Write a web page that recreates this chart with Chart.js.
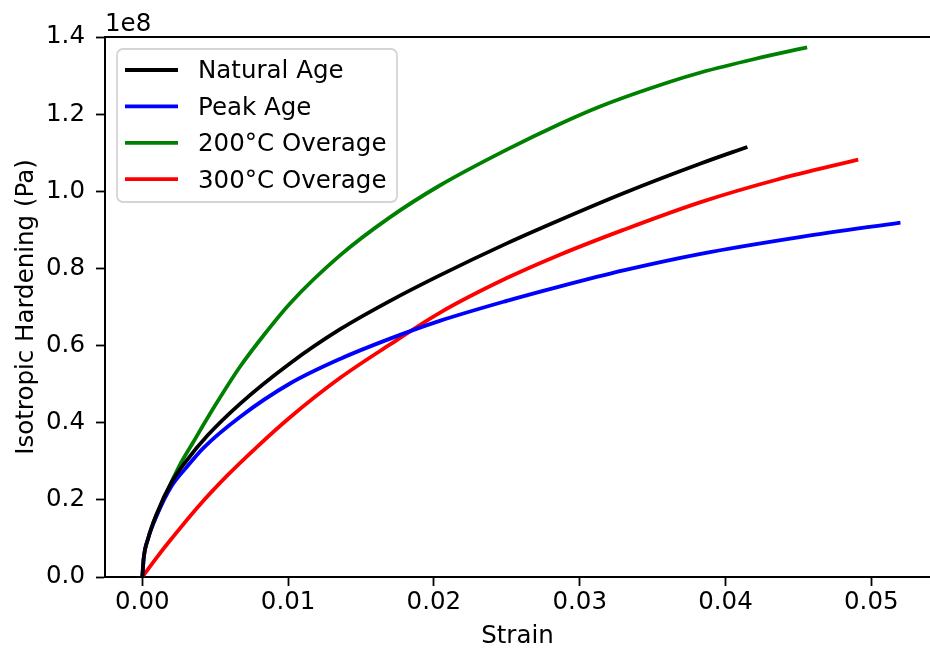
<!DOCTYPE html>
<html>
<head>
<meta charset="utf-8">
<script src="https://cdn.jsdelivr.net/npm/chart.js@4"></script>
<style>
  html, body { margin: 0; padding: 0; background: #fff; }
  canvas { display: block; }
</style>
</head>
<body>
<canvas id="hardChart" width="930" height="651"></canvas>
<script>
// strain values and isotropic hardening (units of 1e8 Pa) per heat treatment
const naturalStrain = [0, 0.0001, 0.0004, 0.001, 0.002, 0.003, 0.0045, 0.0067, 0.0101, 0.0136, 0.017, 0.0204, 0.025, 0.0286, 0.033, 0.0383, 0.0415];
const naturalH      = [0, 0.05, 0.10, 0.165, 0.245, 0.300, 0.368, 0.449, 0.553, 0.643, 0.716, 0.782, 0.865, 0.925, 0.995, 1.072, 1.115];

const peakStrain = [0, 0.0001, 0.0004, 0.001, 0.002, 0.003, 0.0042, 0.0067, 0.0101, 0.0136, 0.017, 0.0204, 0.025, 0.0286, 0.033, 0.0383, 0.0452, 0.052];
const peakH      = [0, 0.05, 0.10, 0.16, 0.235, 0.283, 0.335, 0.415, 0.501, 0.566, 0.618, 0.664, 0.716, 0.753, 0.795, 0.838, 0.882, 0.919];

const over200Strain = [0.00073, 0.0015, 0.0025, 0.0035, 0.005, 0.0067, 0.0085, 0.0101, 0.0136, 0.017, 0.0204, 0.025, 0.0286, 0.0314, 0.0362, 0.0383, 0.042, 0.0456];
const over200H      = [0.138, 0.205, 0.285, 0.350, 0.445, 0.545, 0.635, 0.708, 0.835, 0.933, 1.015, 1.108, 1.174, 1.220, 1.284, 1.308, 1.343, 1.373];

const over300Strain = [0, 0.001, 0.002, 0.0038, 0.0058, 0.0078, 0.0101, 0.0136, 0.017, 0.0204, 0.025, 0.0286, 0.033, 0.0383, 0.0435, 0.0491];
const over300H      = [0, 0.051, 0.099, 0.181, 0.262, 0.335, 0.413, 0.517, 0.603, 0.685, 0.775, 0.835, 0.900, 0.972, 1.030, 1.082];

const seriesLabels = ['Natural Age', 'Peak Age', '200\u00b0C Overage', '300\u00b0C Overage'];
const seriesColors = ['#000000', '#0000ff', '#008000', '#ff0000'];

const xTicks = [0, 0.01, 0.02, 0.03, 0.04, 0.05];
const yTicks = [0, 0.2, 0.4, 0.6, 0.8, 1.0, 1.2, 1.4];

const FONT = 'DejaVu Sans';
const FSIZE = 24.5;

function pts(xs, ys) {
  return xs.map((x, i) => ({ x, y: ys[i] }));
}

// top spine, "1e8" offset text and the framed legend
const decorations = {
  id: 'decorations',
  afterDraw(chart) {
    const { ctx, chartArea } = chart;
    ctx.save();
    ctx.strokeStyle = '#000';
    ctx.lineWidth = 2;
    ctx.beginPath();
    ctx.moveTo(chartArea.left - 1, chartArea.top);
    ctx.lineTo(chartArea.right, chartArea.top);
    ctx.stroke();

    ctx.fillStyle = '#000';
    ctx.font = `${FSIZE}px "${FONT}"`;
    ctx.textAlign = 'left';
    ctx.textBaseline = 'alphabetic';
    ctx.fillText('1e8', chartArea.left, 31);

    // legend box
    const bx = 117, by = 49, bw = 280, bh = 153, r = 6;
    ctx.beginPath();
    ctx.moveTo(bx + r, by);
    ctx.arcTo(bx + bw, by, bx + bw, by + bh, r);
    ctx.arcTo(bx + bw, by + bh, bx, by + bh, r);
    ctx.arcTo(bx, by + bh, bx, by, r);
    ctx.arcTo(bx, by, bx + bw, by, r);
    ctx.closePath();
    ctx.fillStyle = 'rgba(255,255,255,0.8)';
    ctx.fill();
    ctx.strokeStyle = '#d5d5d5';
    ctx.lineWidth = 1.8;
    ctx.stroke();

    chart.data.datasets.forEach((ds, i) => {
      const cy = 70 + i * 36.4;
      ctx.strokeStyle = ds.borderColor;
      ctx.lineWidth = 3.8;
      ctx.beginPath();
      ctx.moveTo(125, cy);
      ctx.lineTo(178, cy);
      ctx.stroke();
      ctx.fillStyle = '#000';
      ctx.textBaseline = 'middle';
      ctx.fillText(ds.label, 198, cy + 2);
    });
    ctx.restore();
  }
};

const datasets = [
  pts(naturalStrain, naturalH),
  pts(peakStrain, peakH),
  pts(over200Strain, over200H),
  pts(over300Strain, over300H),
].map((data, i) => ({
  label: seriesLabels[i],
  data,
  borderColor: seriesColors[i],
  backgroundColor: seriesColors[i],
  borderWidth: 3.8,
  pointRadius: 0,
  fill: false,
  cubicInterpolationMode: 'monotone',
}));

const ctx = document.getElementById('hardChart').getContext('2d');
const hardChart = new Chart(ctx, {
  type: 'line',
  data: { datasets },
  options: {
    responsive: false,
    animation: false,
    layout: { padding: { top: 37, right: 0, left: 0, bottom: 0 } },
    plugins: { legend: { display: false }, tooltip: { enabled: false } },
    scales: {
      x: {
        type: 'linear',
        min: -0.002558,
        max: 0.054026,
        afterBuildTicks: (scale) => { scale.ticks = xTicks.map(v => ({ value: v })); },
        afterFit: (scale) => { scale.height = 74; },
        ticks: {
          autoSkip: false,
          maxRotation: 0,
          padding: 2,
          color: '#000',
          font: { family: FONT, size: FSIZE },
          callback: (v) => Number(v).toFixed(2),
        },
        grid: { drawOnChartArea: false, drawTicks: true, tickLength: 9, tickWidth: 1.8, tickColor: '#000' },
        border: { display: true, color: '#000', width: 2 },
        title: {
          display: true,
          text: 'Strain',
          color: '#000',
          font: { family: FONT, size: FSIZE },
          padding: { top: 0, bottom: 0 },
        },
      },
      y: {
        min: 0,
        max: 1.4,
        afterBuildTicks: (scale) => { scale.ticks = yTicks.map(v => ({ value: v })); },
        afterFit: (scale) => { scale.width = 105; },
        ticks: {
          padding: 11,
          color: '#000',
          font: { family: FONT, size: FSIZE },
          callback: (v) => Number(v).toFixed(1),
        },
        grid: { drawOnChartArea: false, drawTicks: true, tickLength: 9, tickWidth: 1.8, tickColor: '#000' },
        border: { display: true, color: '#000', width: 2 },
        title: {
          display: true,
          text: 'Isotropic Hardening (Pa)',
          color: '#000',
          font: { family: FONT, size: FSIZE },
          padding: { top: 12, bottom: 0 },
        },
      },
    },
  },
  plugins: [decorations],
});
</script>
</body>
</html>
